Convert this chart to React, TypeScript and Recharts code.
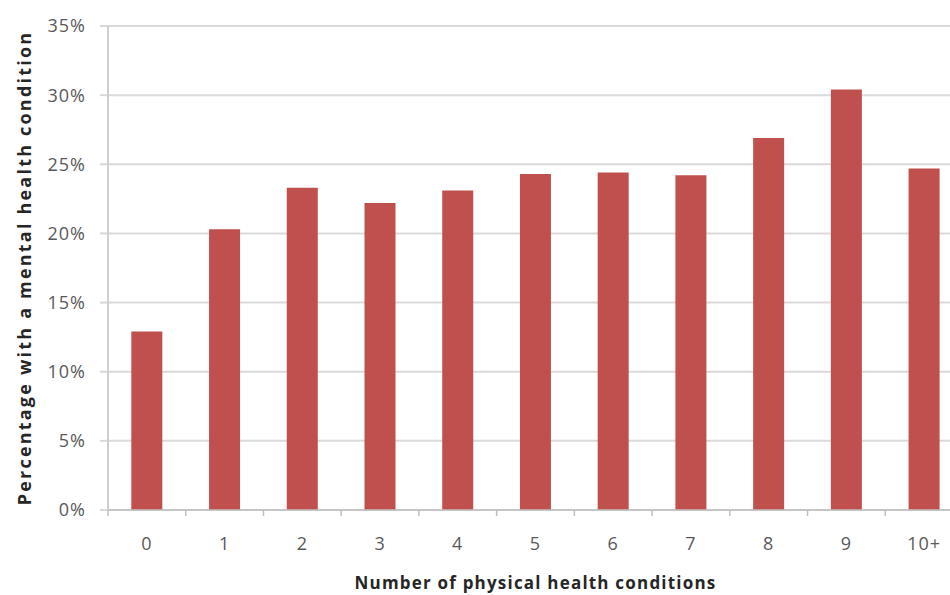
import { BarChart, Bar, XAxis, YAxis, CartesianGrid } from "recharts"

const categories = ["0", "1", "2", "3", "4", "5", "6", "7", "8", "9", "10+"]
const percentages = [12.9, 20.3, 23.3, 22.2, 23.1, 24.3, 24.4, 24.2, 26.9, 30.4, 24.7]
const yTicks = [0, 5, 10, 15, 20, 25, 30, 35]

const data = categories.map((name, i) => ({ name, value: percentages[i] }))

// the original picture is cropped on the right, so the chart is a bit wider than the window
const CHART_WIDTH = 971
const CHART_HEIGHT = 595
const MARGIN = { top: 26, right: 8, bottom: 0, left: 0 }
const Y_AXIS_WIDTH = 108
const X_AXIS_HEIGHT = 85
const band = (CHART_WIDTH - MARGIN.left - MARGIN.right - Y_AXIS_WIDTH) / categories.length

const FONT = "'Open Sans', sans-serif"

function CategoryTick(props: any) {
  const { x, y, payload } = props
  const left = x - band / 2
  return (
    <g>
      <line x1={left} y1={y} x2={left} y2={y + 6} stroke="#bfbfbf" strokeWidth={1.5} />
      <text
        x={x}
        y={y + 35}
        textAnchor="middle"
        dominantBaseline="middle"
        fill="#595959"
        fontSize={18}
        fontFamily={FONT}
        letterSpacing={1}
      >
        {payload.value}
      </text>
    </g>
  )
}

export default function App() {
  return (
    <div
      style={{
        position: "absolute",
        left: 0,
        top: 0,
        width: 950,
        height: 595,
        overflow: "hidden",
        background: "#fff",
      }}
    >
      <BarChart width={CHART_WIDTH} height={CHART_HEIGHT} data={data} margin={MARGIN} barCategoryGap="30%">
        <CartesianGrid vertical={false} stroke="#d9d9d9" strokeWidth={2} />
        <XAxis
          dataKey="name"
          height={X_AXIS_HEIGHT}
          interval={0}
          tickSize={0}
          tickMargin={0}
          tickLine={false}
          axisLine={{ stroke: "#bfbfbf", strokeWidth: 1.5 }}
          tick={<CategoryTick />}
          label={{
            value: "Number of physical health conditions",
            position: "insideBottom",
            offset: 6,
            style: { fill: "#262626", fontSize: 17, fontWeight: 700, fontFamily: FONT, letterSpacing: 1.2 },
          }}
        />
        <YAxis
          width={Y_AXIS_WIDTH}
          domain={[0, 35]}
          ticks={yTicks}
          interval={0}
          tickFormatter={(v) => `${v}%`}
          tickSize={8}
          tickMargin={14}
          tickLine={{ stroke: "#d9d9d9", strokeWidth: 2 }}
          axisLine={{ stroke: "#bfbfbf", strokeWidth: 1.5 }}
          tick={{ fill: "#595959", fontSize: 18, fontFamily: FONT, letterSpacing: 1 }}
          label={{
            value: "Percentage with a mental health condition",
            angle: -90,
            position: "insideLeft",
            offset: 25,
            style: { textAnchor: "middle", fill: "#262626", fontSize: 18, fontWeight: 700, fontFamily: FONT, letterSpacing: 2.2 },
          }}
        />
        <Bar dataKey="value" fill="#c0504d" isAnimationActive={false} />
      </BarChart>
    </div>
  )
}
